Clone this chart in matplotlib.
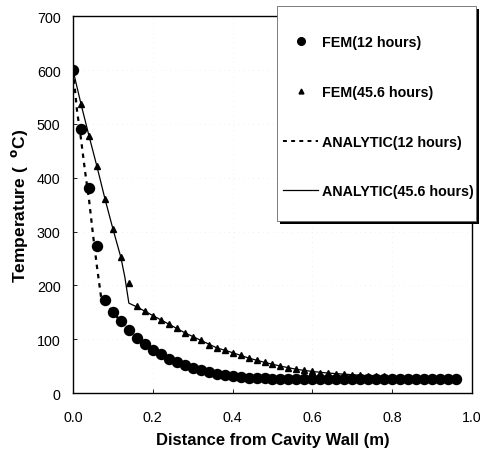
"""Temperature profile vs distance from cavity wall: FEM vs analytic."""

import matplotlib
matplotlib.use("Agg")
import matplotlib.pyplot as plt
from matplotlib.lines import Line2D
from matplotlib.patches import Rectangle

plt.rcParams["font.family"] = ["Liberation Sans", "DejaVu Sans"]

# FEM node positions (m)
fem_x = [0.00, 0.02, 0.04, 0.06, 0.08, 0.10, 0.12, 0.14, 0.16, 0.18,
         0.20, 0.22, 0.24, 0.26, 0.28, 0.30, 0.32, 0.34, 0.36, 0.38,
         0.40, 0.42, 0.44, 0.46, 0.48, 0.50, 0.52, 0.54, 0.56, 0.58,
         0.60, 0.62, 0.64, 0.66, 0.68, 0.70, 0.72, 0.74, 0.76, 0.78,
         0.80, 0.82, 0.84, 0.86, 0.88, 0.90, 0.92, 0.94, 0.96]

fem_12h = [600, 490, 381, 273, 173, 150, 133, 118, 103, 91,
           80, 72, 64, 58, 52, 47, 43, 39, 36, 33,
           31, 29, 28, 27, 27, 26, 26, 26, 26, 26,
           26, 26, 26, 26, 26, 26, 26, 26, 26, 26,
           26, 26, 26, 26, 26, 26, 26, 26, 26]

fem_45h = [600, 537, 478, 422, 361, 305, 253, 204, 161, 152,
           144, 135, 128, 121, 112, 104, 98, 89, 84, 79,
           75, 70, 65, 61, 57, 54, 50, 46, 44, 42,
           40, 38, 37, 36, 35, 34, 33, 32, 31.5, 31,
           30.5, 30, 30, 29.5, 29.5, 29, 29, 29, 29]

# analytic solutions
ana_12h_x = [0.00, 0.01, 0.02, 0.03, 0.04, 0.05, 0.06, 0.07, 0.08, 0.10,
             0.12, 0.14, 0.16, 0.20, 0.24, 0.28, 0.32, 0.36, 0.40, 0.44,
             0.48, 0.56, 0.64, 0.72, 0.80, 0.88, 0.96]
ana_12h_y = [600, 525, 472, 413, 360, 295, 235, 180, 170, 150,
             133, 118, 103, 80, 64, 52, 43, 36, 31, 28,
             27, 26, 26, 26, 26, 26, 26]

ana_45h_x = [0.00, 0.02, 0.04, 0.06, 0.08, 0.10, 0.12, 0.13, 0.14, 0.16,
             0.20, 0.24, 0.28, 0.32, 0.36, 0.40, 0.44, 0.48, 0.52, 0.56,
             0.60, 0.64, 0.68, 0.72, 0.76, 0.80, 0.88, 0.96]
ana_45h_y = [600, 537, 478, 421, 361, 305, 252, 215, 167, 160,
             144, 128, 112, 98, 84, 75, 65, 57, 50, 44,
             40, 37, 35, 33, 31.5, 30.5, 29.5, 29]

x_ticks = [0.0, 0.2, 0.4, 0.6, 0.8, 1.0]
y_ticks = [0, 100, 200, 300, 400, 500, 600, 700]
legend_labels = ["FEM(12 hours)", "FEM(45.6 hours)", "ANALYTIC(12 hours)",
                 "ANALYTIC(45.6 hours)"]

W, H = 481, 452
fig = plt.figure(figsize=(W / 100, H / 100), dpi=100)
ax = fig.add_axes([0.1518, 0.1283, 0.8294, 0.8334])

ax.grid(True, color="#e4e4e4", linestyle=(0, (1, 6)), linewidth=0.5)
ax.set_axisbelow(True)

ax.plot(ana_12h_x, ana_12h_y, color="black", linewidth=1.6,
        linestyle=(0, (2.0, 2.2)), zorder=2)
ax.plot(ana_45h_x, ana_45h_y, color="black", linewidth=0.9, zorder=2)
ax.plot(fem_x, fem_12h, "o", color="black", markersize=7.2, linestyle="none",
        zorder=3)
ax.plot(fem_x, fem_45h, "^", color="black", markersize=5, linestyle="none",
        zorder=3)

ax.set_xlim(0, 1.0)
ax.set_ylim(0, 700)
ax.set_xticks(x_ticks)
ax.set_yticks(y_ticks)
ax.set_xticklabels([f"{v:.1f}" for v in x_ticks])
ax.tick_params(direction="in", length=3, width=0.6, labelsize=10.3)
ax.tick_params(axis="x", pad=12)
ax.tick_params(axis="y", pad=9)
for s in ax.spines.values():
    s.set_linewidth(1.0)

ax.set_xlabel("Distance from Cavity Wall (m)", fontsize=12,
              fontweight="bold", labelpad=6)
ax.set_ylabel("Temperature (  $^{\\mathbf{o}}$C)", fontsize=12.5,
              fontweight="bold", labelpad=5)

# legend box with drop shadow, drawn in figure pixels
bx0, bx1, by0, by1 = 277, 476, 7, 222
fig.add_artist(Rectangle(((bx0 + 3) / W, (H - by1 - 3) / H),
                         (bx1 - bx0) / W, (by1 - by0) / H,
                         transform=fig.transFigure, facecolor="black",
                         edgecolor="none", zorder=4))
fig.add_artist(Rectangle((bx0 / W, (H - by1) / H),
                         (bx1 - bx0) / W, (by1 - by0) / H,
                         transform=fig.transFigure, facecolor="white",
                         edgecolor="#666666", linewidth=0.6, zorder=4.5))

handles = [
    Line2D([], [], marker="o", color="black", linestyle="none", markersize=5.5),
    Line2D([], [], marker="^", color="black", linestyle="none", markersize=3.5),
    Line2D([], [], color="black", linewidth=1.4, linestyle=(0, (2.0, 2.2))),
    Line2D([], [], color="black", linewidth=0.9),
]
leg = fig.legend(handles, legend_labels, loc="upper left",
                 bbox_to_anchor=(283 / W, 1 - 36 / H),
                 prop={"size": 10.3, "weight": "bold"},
                 frameon=False, handlelength=2.45, handletextpad=0.28,
                 labelspacing=2.5, borderpad=0.0, borderaxespad=0.0)
leg.set_zorder(5)

fig.savefig("out.png", dpi=100)
